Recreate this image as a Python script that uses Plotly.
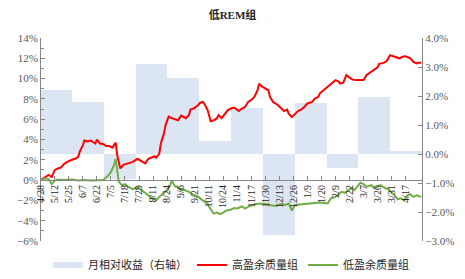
import plotly.graph_objects as go

# ---- data ----
tick_labels = ["4/28", "5/12", "5/25", "6/7", "6/22", "7/5", "7/18", "7/29", "8/11", "8/24",
               "9/6", "9/21", "10/11", "10/24", "11/4", "11/17", "11/30", "12/13", "12/26",
               "1/9", "1/20", "2/9", "2/22", "3/7", "3/20", "3/31", "4/17"]
tick_days = [i * 9 for i in range(len(tick_labels))]
n_days = 245

months = ["2016-05", "2016-06", "2016-07", "2016-08", "2016-09", "2016-10",
          "2016-11", "2016-12", "2017-01", "2017-02", "2017-03", "2017-04"]
monthly_rel = [2.2, 1.8, -0.85, 3.1, 2.62, 0.45, 1.57, -2.8, 1.76, -0.48, 1.97, 0.1]

high_day = [0, 3, 5, 7, 9, 11, 13, 15, 17, 20, 22, 24, 25, 27, 28, 30, 32, 35, 36, 38, 40, 42, 44, 46,
            48, 49, 50, 51, 53, 55, 57, 59, 62, 65, 67, 69, 71, 73, 74, 76, 77, 79, 80, 82, 84, 86, 88,
            90, 91, 93, 95, 96, 98, 99, 101, 102, 104, 105, 107, 109, 111, 113, 114, 116, 118, 120, 122,
            124, 127, 129, 131, 133, 135, 137, 139, 140, 142, 144, 146, 147, 149, 152, 154, 156, 158, 159,
            161, 163, 165, 167, 169, 171, 174, 176, 178, 179, 182, 184, 186, 189, 191, 192, 194, 196, 198,
            200, 202, 204, 206, 207, 209, 212, 214, 216, 217, 220, 222, 224, 226, 228, 230, 232, 234, 237,
            239, 241, 242, 244]
high_val = [0, 0.27, 0.5, 0.3, 1.0, 1.15, 1.25, 1.6, 1.8, 2.0, 2.1, 2.3, 2.8, 3.45, 3.9, 3.8, 3.9, 3.6,
            4.0, 3.6, 3.55, 3.35, 3.35, 3.2, 3.7, 2.46, 1.6, 1.15, 1.5, 1.6, 1.7, 1.8, 2.1, 1.8, 1.65, 2.1,
            2.2, 2.35, 2.2, 2.6, 3.6, 4.6, 5.4, 6.25, 6.1, 6.0, 5.9, 6.35, 6.25, 6.1, 6.4, 6.95, 7.05, 7.15,
            7.4, 7.6, 7.7, 7.5, 6.9, 5.8, 5.9, 6.1, 6.4, 6.1, 6.55, 6.9, 7.05, 7.15, 6.8, 7.05, 7.2, 7.7,
            7.9, 8.2, 8.85, 9.5, 9.2, 9.05, 8.85, 8.2, 7.7, 7.4, 7.05, 6.8, 6.95, 6.55, 6.2, 6.5, 6.8, 6.95,
            7.2, 7.55, 7.7, 8.05, 8.2, 8.55, 8.95, 9.2, 9.5, 9.85, 9.7, 9.5, 9.6, 10.35, 10.1, 9.9, 9.85,
            9.85, 9.9, 9.85, 10.35, 10.65, 10.9, 11.1, 11.45, 11.55, 11.75, 12.3, 12.2, 12.1, 12.0, 12.15,
            12.2, 12.0, 11.65, 11.5, 11.55, 11.55]

low_day = [0, 3, 5, 7, 9, 11, 15, 20, 24, 28, 32, 37, 40, 43, 45, 47, 48, 49, 50, 52, 54, 56, 59, 62,
           64, 66, 68, 70, 72, 74, 76, 79, 81, 83, 84, 86, 88, 90, 92, 95, 97, 99, 101, 103, 105, 107,
           109, 111, 113, 115, 117, 119, 122, 124, 126, 129, 131, 134, 138, 141, 144, 147, 150, 154, 157,
           159, 161, 163, 166, 170, 173, 176, 179, 182, 184, 186, 189, 191, 193, 195, 197, 199, 201, 203,
           205, 207, 209, 212, 214, 216, 218, 221, 223, 225, 227, 229, 231, 233, 235, 237, 239, 241, 244]
low_val = [0, 0.17, 0.1, -0.4, -0.05, 0.05, 0, 0.05, -0.05, 0, -0.05, -0.05, 0, 0.4, 0.8, 1.5, 2.1,
           1.0, -0.15, -0.5, -0.4, -0.65, -0.9, -0.7, -0.9, -1.15, -1.4, -1.65, -1.8, -2.0, -1.65, -1.3,
           -1.0, -0.5, -0.05, -0.6, -0.7, -1.0, -0.95, -1.15, -1.4, -1.5, -1.65, -1.9, -2.15, -2.35, -2.9,
           -3.3, -3.2, -3.35, -3.2, -3.0, -2.9, -2.75, -2.8, -2.6, -2.8, -2.55, -2.35, -2.3, -2.35, -2.45,
           -2.55, -2.35, -2.45, -2.3, -3.0, -2.45, -2.4, -2.35, -2.3, -2.25, -2.2, -2.25, -2.3, -1.8, -1.65,
           -1.4, -1.15, -1.25, -1.0, -0.8, -1.0, -0.65, -0.25, -0.4, -0.65, -0.5, -0.8, -0.65, -0.5, -0.8,
           -0.9, -1.25, -1.5, -1.9, -1.8, -2.0, -1.5, -1.4, -1.65, -1.5, -1.65]

# ---- styles ----
SERIF = "Liberation Serif, 'Times New Roman', 'Noto Sans CJK SC', serif"
CJK = "'Noto Sans CJK SC', sans-serif"
AXIS_COLOR = "#868686"
TICK_COLOR = "#595959"

fig = go.Figure()

fig.add_trace(go.Bar(
    x=list(range(len(months))), y=[v / 100 for v in monthly_rel],
    width=1.0, marker=dict(color="#DCE6F2", line=dict(width=0)),
    xaxis="x", yaxis="y", showlegend=False, hoverinfo="skip"))
fig.add_trace(go.Scatter(
    x=[None], y=[None], mode="lines", name="月相对收益（右轴）",
    line=dict(color="#DCE6F2", width=6), xaxis="x2", yaxis="y2"))
fig.add_trace(go.Scatter(
    x=high_day, y=[v / 100 for v in high_val], mode="lines", name="高盈余质量组",
    line=dict(color="#FF0000", width=2), xaxis="x2", yaxis="y2"))
fig.add_trace(go.Scatter(
    x=low_day, y=[v / 100 for v in low_val], mode="lines", name="低盈余质量组",
    line=dict(color="#70AD47", width=2), xaxis="x2", yaxis="y2"))

fig.update_layout(
    width=465, height=279,
    margin=dict(l=40, r=43, t=38, b=38, autoexpand=False),
    paper_bgcolor="white", plot_bgcolor="white",
    bargap=0,
    title=dict(text="<b>低REM组</b>", x=0.5, xanchor="center", y=1 - 15 / 279, yanchor="middle",
               font=dict(family=SERIF, size=11, color="#262626")),
    xaxis=dict(range=[-0.5, len(months) - 0.5], visible=False, fixedrange=True, automargin=False),
    yaxis=dict(range=[-0.03, 0.04], dtick=0.01, tickformat=".1%", side="right", automargin=False,
               showgrid=False, zeroline=False, showline=True, linecolor=AXIS_COLOR, linewidth=1,
               ticks="inside", ticklen=4, tickcolor=AXIS_COLOR,
               tickfont=dict(family=SERIF, size=11, color=TICK_COLOR)),
    xaxis2=dict(range=[-0.5, n_days - 0.5], overlaying="x", anchor="free", position=0.3,
                automargin=False,
                tickmode="array", tickvals=tick_days, ticktext=tick_labels, tickangle=-90,
                showgrid=False, zeroline=False, showline=True, linecolor=AXIS_COLOR, linewidth=1,
                ticks="inside", ticklen=4, tickcolor=AXIS_COLOR,
                tickfont=dict(family=SERIF, size=10, color="#262626")),
    yaxis2=dict(range=[-0.06, 0.14], dtick=0.02, tickformat=".0%", overlaying="y", side="left",
                anchor="free", position=0, automargin=False,
                showgrid=False, zeroline=False, showline=True, linecolor=AXIS_COLOR, linewidth=1,
                ticks="inside", ticklen=4, tickcolor=AXIS_COLOR,
                minor=dict(dtick=0.01, ticks="inside", ticklen=3, tickcolor=AXIS_COLOR),
                tickfont=dict(family=SERIF, size=11, color=TICK_COLOR)),
    legend=dict(orientation="h", x=0.5, xanchor="center", y=-0.118, yanchor="middle",
                font=dict(family=CJK, size=11, color="#262626"), itemwidth=30,
                bgcolor="rgba(0,0,0,0)"),
    showlegend=True,
)

fig.write_html("out.html")
